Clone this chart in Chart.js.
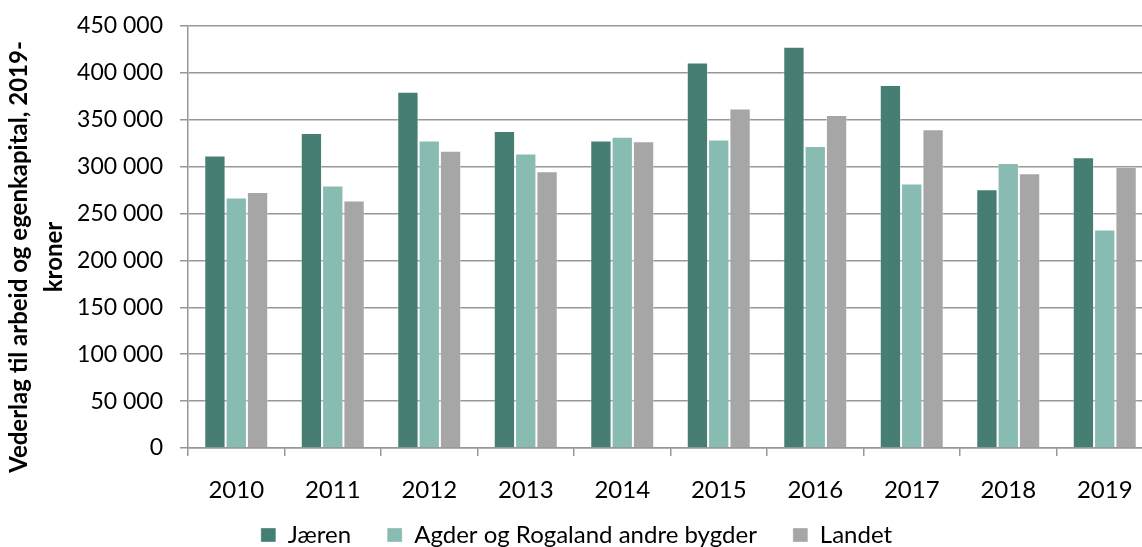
<!DOCTYPE html>
<html lang="no">
<head>
<meta charset="utf-8">
<title>Vederlag til arbeid og egenkapital</title>
<script src="https://cdn.jsdelivr.net/npm/chart.js@4.4.1/dist/chart.umd.min.js"></script>
<style>
  html, body { margin: 0; padding: 0; background: #fff; overflow: hidden; }
  #wrap { width: 1153px; height: 547px; }
</style>
</head>
<body>
<div id="wrap"><canvas id="chart"></canvas></div>
<script>
// values (kroner, 2019-kroner)
const years = ['2010', '2011', '2012', '2013', '2014', '2015', '2016', '2017', '2018', '2019'];
const jaeren = [312000, 336000, 380000, 338000, 328000, 411000, 428000, 387000, 276000, 310000];
const agder  = [267000, 280000, 328000, 314000, 332000, 329000, 322000, 282000, 304000, 233000];
const landet = [273000, 264000, 317000, 295000, 327000, 362000, 355000, 340000, 293000, 300000];

const seriesNames = ['Jæren', 'Agder og Rogaland andre bygder', 'Landet'];
const seriesColors = ['#467e74', '#88bbb2', '#a6a6a6'];
const yMax = 450000;
const yStep = 50000;
const yTitle = ['Vederlag til arbeid og egenkapital, 2019-', 'kroner'];

const FONT = 'Lato';
const gridColor = '#979797';

// 450000 -> "450 000"
function fmt(v) {
    return String(v).replace(/\B(?=(\d{3})+(?!\d))/g, ' ');
}

// rotated two-line axis title, centred a bit below the plot centre like the original
const yTitlePlugin = {
    id: 'yTitle',
    afterDraw(chart) {
        const ctx = chart.ctx;
        ctx.save();
        ctx.translate(19.5, 257);
        ctx.rotate(-Math.PI / 2);
        ctx.font = `bold 24px ${FONT}`;
        ctx.fillStyle = '#000';
        ctx.textAlign = 'center';
        ctx.textBaseline = 'middle';
        yTitle.forEach((line, i) => ctx.fillText(line, 0, i * 35));
        ctx.restore();
    }
};

// legend sits closer to the year labels than chart.js would put it
const legendNudge = {
    id: 'legendNudge',
    afterLayout(chart) {
        const l = chart.legend;
        if (!l) return;
        l.top -= 21;
        l.bottom -= 21;
    }
};

const ctx = document.getElementById('chart').getContext('2d');

new Chart(ctx, {
    type: 'bar',
    data: {
        labels: years,
        datasets: [jaeren, agder, landet].map((d, i) => ({
            label: seriesNames[i],
            data: d,
            backgroundColor: seriesColors[i],
            borderColor: 'rgba(255,255,255,0.35)',
            borderWidth: 1,
            categoryPercentage: 0.663,
            barPercentage: 1.0
        }))
    },
    options: {
        responsive: true,
        maintainAspectRatio: false,
        animation: false,
        layout: { padding: { top: 26, right: 0, bottom: -31, left: 0 } },
        plugins: {
            legend: {
                position: 'bottom',
                labels: {
                    boxWidth: 15,
                    boxHeight: 14,
                    padding: 36,
                    color: '#000',
                    font: { family: FONT, size: 24 }
                }
            },
            tooltip: { enabled: false }
        },
        scales: {
            x: {
                grid: {
                    offset: true,
                    drawOnChartArea: false,
                    drawTicks: true,
                    tickLength: 8,
                    color: gridColor,
                    lineWidth: 1.5
                },
                border: { display: true, color: gridColor, width: 1.5 },
                ticks: {
                    color: '#000',
                    padding: 20,
                    font: { family: FONT, size: 24 }
                },
                afterFit: s => { s.height = 60; }
            },
            y: {
                min: 0,
                max: yMax,
                grid: {
                    color: gridColor,
                    lineWidth: 1.5,
                    tickLength: 8
                },
                border: { display: true, color: gridColor, width: 1.5 },
                ticks: {
                    stepSize: yStep,
                    color: '#000',
                    padding: 17,
                    font: { family: FONT, size: 23 },
                    callback: v => fmt(v)
                },
                afterFit: s => {
                    s.width = 188;
                    s.paddingTop = 0;
                    s.paddingBottom = 0;
                }
            }
        }
    },
    plugins: [yTitlePlugin, legendNudge]
});
</script>
</body>
</html>
